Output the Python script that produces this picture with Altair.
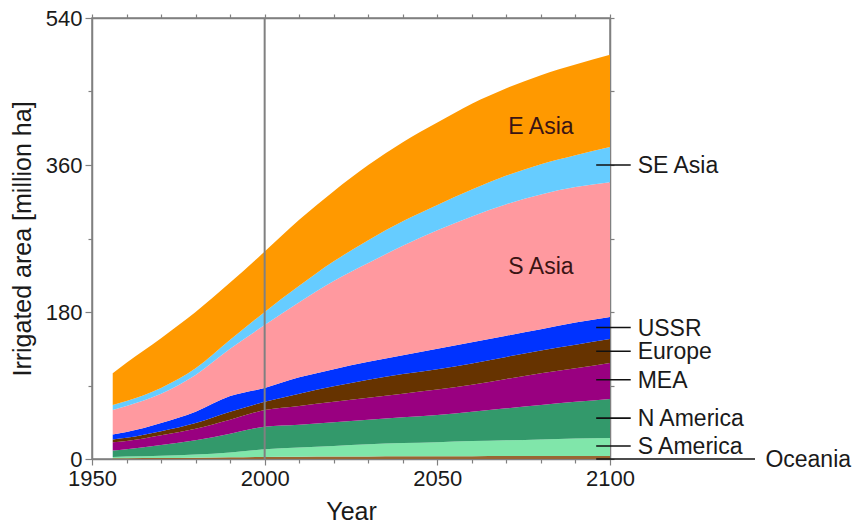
import altair as alt
import pandas as pd

# ---- data ----
years = [1956, 1960, 1970, 1980, 1990, 2000, 2010, 2020, 2030, 2040, 2050, 2060, 2070, 2080, 2090, 2100]
oceania   = [1.0, 1.0, 1.2, 1.5, 2.0, 2.5, 2.8, 3.0, 3.2, 3.3, 3.4, 3.5, 3.6, 3.6, 3.7, 3.7]
s_america = [1.5, 2.0, 2.8, 4.0, 6.0, 9.5, 11.2, 13.0, 14.8, 16.2, 17.1, 18.5, 19.4, 20.4, 21.3, 22.0]
n_america = [8.0, 9.0, 13.0, 17.5, 23.0, 27.5, 28.0, 29.0, 30.0, 31.5, 33.5, 36.0, 39.0, 42.0, 45.0, 47.8]
mea       = [10, 10, 12, 14, 17, 20.5, 23, 25, 27, 29, 31, 33, 36, 39, 41, 44]
europe    = [3.5, 4, 5, 7, 10, 10, 15, 19, 22, 24, 25, 26, 27, 28, 29, 29.5]
ussr      = [6, 7, 10, 14, 19, 17, 20, 21, 22, 23, 25, 26, 26, 26, 27, 27]
s_asia    = [30, 32, 36, 45, 58, 77, 92, 108, 121, 134, 145, 154, 161, 165, 166, 165]
se_asia   = [6, 6, 7, 8, 11, 16, 20, 24, 28, 30, 31, 33, 35, 37, 39, 43]
e_asia    = [39, 47, 61, 69, 70, 74, 81, 86, 92, 97, 101, 105, 107, 109, 111, 113]

regions = ["Oceania", "S America", "N America", "MEA", "Europe", "USSR", "S Asia", "SE Asia", "E Asia"]
series = [oceania, s_america, n_america, mea, europe, ussr, s_asia, se_asia, e_asia]
colors = ["#996633", "#80E6AA", "#33996B", "#990080", "#663300", "#0033FF", "#FF999F", "#66CCFF", "#FF9900"]

# right-hand labels
side_names = ["SE Asia", "USSR", "Europe", "MEA", "N America", "S America", "Oceania"]
side_values = [360, 161, 132, 97, 50, 16, 0]
side_line_start = [2096, 2096, 2096, 2096, 2096, 2096, 2096]
side_line_end = [2106, 2106, 2106, 2106, 2106, 2106, 2142]
side_text_x = [2108, 2108, 2108, 2108, 2108, 2108, 2145]

# in-plot labels
inner_names = ["E Asia", "S Asia"]
inner_x = [2080, 2080]
inner_y = [406, 235]

x_ticks = list(range(1950, 2101, 10))
y_ticks = list(range(0, 541, 90))

FONT = "Liberation Sans"

rows = []
for rank, (name, vals) in enumerate(zip(regions, series)):
    for yr, v in zip(years, vals):
        rows.append({"year": yr, "area": v, "region": name, "rank": rank})
df = pd.DataFrame(rows)

side_df = pd.DataFrame({"name": side_names, "value": side_values, "x1": side_line_start,
                        "x2": side_line_end, "tx": side_text_x})
inner_df = pd.DataFrame({"name": inner_names, "x": inner_x, "y": inner_y})

xscale = alt.Scale(domain=[1950, 2100], nice=False, zero=False)
yscale = alt.Scale(domain=[0, 540], nice=False)

areas = alt.Chart(df).mark_area(interpolate="monotone", strokeWidth=0).encode(
    x=alt.X("year:Q", scale=xscale, title="Year",
            axis=alt.Axis(values=x_ticks, labelExpr="datum.value % 50 == 0 ? datum.label : ''",
                          format="d", orient="bottom", labelFlush=False,
                          tickSize={"condition": {"test": "datum.value % 50 === 0", "value": 6}, "value": 4},
                          labelPadding=3, titlePadding=10)),
    y=alt.Y("area:Q", stack="zero", scale=yscale, title="Irrigated area [million ha]",
            axis=alt.Axis(values=y_ticks, labelExpr="datum.value % 180 == 0 ? datum.label : ''",
                          orient="left", labelFlush=False,
                          tickSize={"condition": {"test": "datum.value % 180 === 0", "value": 7}, "value": 4},
                          labelPadding=3, titlePadding=10)),
    color=alt.Color("region:N", scale=alt.Scale(domain=regions, range=colors), legend=None),
    order=alt.Order("rank:Q", sort="ascending"),
)

year_line = alt.Chart(pd.DataFrame({"year": [2000]})).mark_rule(color="#808080", strokeWidth=2).encode(
    x=alt.X("year:Q", scale=xscale, axis=None)
)

side_lines = alt.Chart(side_df).mark_rule(color="#111111", strokeWidth=1.6).encode(
    x=alt.X("x1:Q", scale=xscale,
            axis=alt.Axis(values=x_ticks, labels=False, orient="top", tickSize=4, title=None)),
    x2="x2:Q",
    y=alt.Y("value:Q", scale=yscale,
            axis=alt.Axis(values=y_ticks, labels=False, orient="right", tickSize=4, title=None)),
)

side_text = alt.Chart(side_df).mark_text(align="left", baseline="middle", font=FONT, fontSize=23,
                                         color="#1a1a1a", dy=1).encode(
    x=alt.X("tx:Q", scale=xscale, axis=None),
    y=alt.Y("value:Q", scale=yscale, axis=None),
    text="name:N",
)

inner_text = alt.Chart(inner_df).mark_text(align="center", baseline="middle", font=FONT, fontSize=23,
                                           color="#3a1414").encode(
    x=alt.X("x:Q", scale=xscale, axis=None),
    y=alt.Y("y:Q", scale=yscale, axis=None),
    text="name:N",
)

chart = alt.layer(areas, year_line, side_lines, side_text, inner_text).resolve_axis(
    x="independent", y="independent"
).properties(
    width=518, height=441,
    autosize=alt.AutoSizeParams(type="none"),
    padding={"left": 92, "top": 18, "right": 242, "bottom": 67},
).configure_view(
    stroke="#808080", strokeWidth=1.5
).configure_axis(
    domainColor="#808080", domainWidth=1.5, tickColor="#808080", tickWidth=1.2,
    labelFont=FONT, labelFontSize=22, labelColor="#1a1a1a",
    titleFont=FONT, titleFontSize=25, titleColor="#1a1a1a", titleFontWeight="normal",
    grid=False,
)

chart.save("out.html", embed_options={"renderer": "svg", "actions": False})
